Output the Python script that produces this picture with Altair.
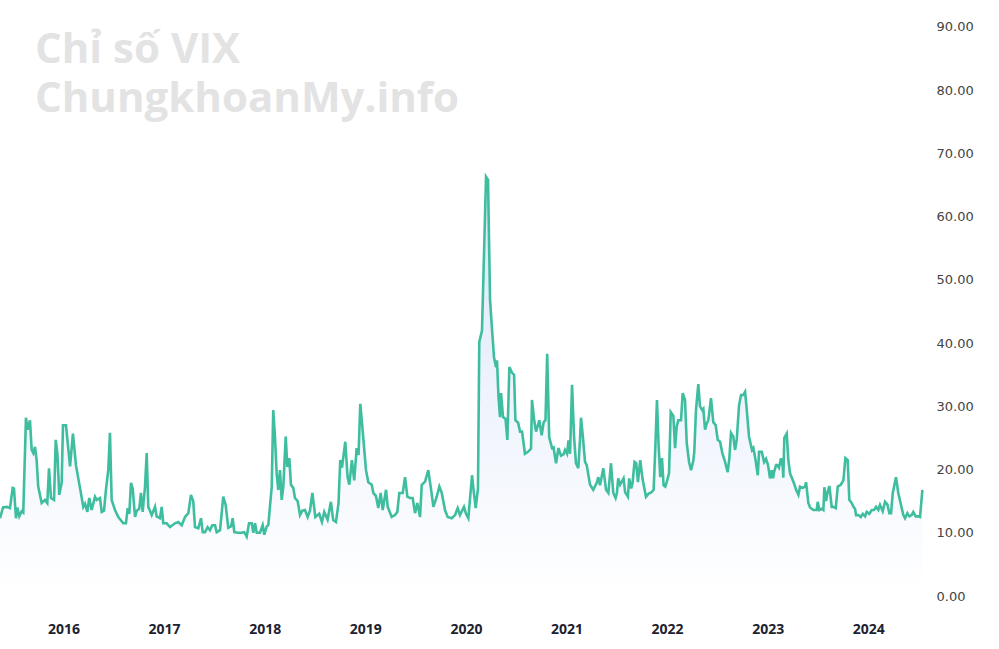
import altair as alt
import pandas as pd

# Weekly VIX closes; time expressed as decimal year
t_2015 = [2015.369, 2015.399, 2015.438, 2015.468, 2015.495, 2015.508, 2015.528, 2015.541, 2015.561, 2015.584,
          2015.600, 2015.627, 2015.644, 2015.667, 2015.684, 2015.700, 2015.717, 2015.733, 2015.749, 2015.783,
          2015.816, 2015.839, 2015.856, 2015.876, 2015.906, 2015.923, 2015.939, 2015.958, 2015.982, 2015.995]
v_2015 = [12.3, 14.0, 14.1, 13.9, 17.1, 17.0, 12.3, 14.0, 12.6, 13.4,
          13.2, 28.2, 26.3, 27.8, 23.1, 22.6, 23.6, 21.5, 17.3, 14.7,
          15.2, 14.7, 20.2, 15.5, 15.2, 24.7, 22.6, 16.0, 17.9, 27.0]

t_2016 = [2016.025, 2016.065, 2016.094, 2016.124, 2016.164, 2016.197, 2016.214, 2016.237, 2016.256, 2016.280,
          2016.313, 2016.330, 2016.363, 2016.380, 2016.403, 2016.422, 2016.445, 2016.462, 2016.479, 2016.512,
          2016.545, 2016.594, 2016.621, 2016.638, 2016.654, 2016.671, 2016.688, 2016.711, 2016.728, 2016.753,
          2016.770, 2016.787, 2016.810, 2016.827, 2016.843, 2016.877, 2016.910, 2016.926, 2016.959, 2016.976,
          2016.992]
v_2016 = [27.0, 20.5, 25.7, 20.7, 17.1, 14.1, 14.6, 13.3, 15.5, 13.6,
          15.7, 15.2, 15.5, 13.3, 13.5, 16.8, 19.9, 25.8, 15.2, 13.6,
          12.5, 11.5, 11.5, 13.9, 13.0, 17.9, 17.0, 12.5, 13.5, 13.8,
          16.3, 13.3, 17.2, 22.6, 14.1, 12.8, 14.1, 12.6, 12.3, 14.1,
          11.5]

t_2017 = [2017.026, 2017.059, 2017.108, 2017.141, 2017.175, 2017.208, 2017.241, 2017.267, 2017.290, 2017.307,
          2017.340, 2017.367, 2017.384, 2017.407, 2017.433, 2017.456, 2017.479, 2017.506, 2017.523, 2017.556,
          2017.588, 2017.612, 2017.638, 2017.665, 2017.682, 2017.698, 2017.732, 2017.771, 2017.797, 2017.821,
          2017.844, 2017.871, 2017.887, 2017.904, 2017.921, 2017.953, 2017.980, 2017.996]
v_2017 = [11.5, 10.9, 11.5, 11.7, 11.2, 12.5, 13.1, 16.0, 15.0, 10.9,
          10.7, 12.3, 10.1, 10.1, 10.9, 10.4, 11.2, 11.2, 10.1, 10.4,
          15.7, 14.4, 10.8, 11.0, 12.3, 10.1, 10.0, 10.0, 10.1, 9.4,
          11.5, 11.5, 10.0, 11.5, 10.0, 10.0, 11.2, 9.7]

t_2018 = [2018.020, 2018.036, 2018.070, 2018.085, 2018.102, 2018.119, 2018.135, 2018.152, 2018.169, 2018.185,
          2018.209, 2018.225, 2018.245, 2018.261, 2018.284, 2018.301, 2018.328, 2018.351, 2018.374, 2018.400,
          2018.427, 2018.450, 2018.474, 2018.503, 2018.542, 2018.569, 2018.592, 2018.625, 2018.658, 2018.681,
          2018.708, 2018.734, 2018.751, 2018.768, 2018.801, 2018.824, 2018.841, 2018.867, 2018.890, 2018.914,
          2018.933, 2018.950, 2018.973]
v_2018 = [11.0, 11.2, 17.3, 29.4, 25.2, 19.4, 16.8, 19.9, 15.2, 17.3,
          25.2, 20.4, 21.8, 17.6, 17.1, 15.5, 15.0, 12.8, 13.5, 13.6,
          12.5, 13.5, 16.3, 12.5, 13.0, 11.7, 13.3, 12.1, 14.9, 12.0,
          11.7, 14.7, 21.5, 20.3, 24.4, 18.8, 17.6, 21.5, 18.3, 23.4,
          22.3, 30.4, 26.3]

t_2019 = [2019.007, 2019.030, 2019.064, 2019.080, 2019.106, 2019.129, 2019.153, 2019.173, 2019.206, 2019.223,
          2019.262, 2019.295, 2019.318, 2019.338, 2019.372, 2019.395, 2019.418, 2019.444, 2019.471, 2019.494,
          2019.517, 2019.544, 2019.561, 2019.594, 2019.626, 2019.650, 2019.677, 2019.710, 2019.736, 2019.760,
          2019.792, 2019.819, 2019.859, 2019.892, 2019.918, 2019.941, 2019.981]
v_2019 = [19.9, 18.0, 17.6, 16.3, 15.8, 13.9, 16.3, 13.6, 16.8, 14.1,
          12.5, 12.8, 13.3, 16.3, 16.3, 18.8, 15.7, 15.5, 15.5, 13.1,
          14.7, 12.5, 17.6, 18.1, 19.9, 17.3, 14.1, 15.7, 17.3, 16.3,
          13.6, 12.5, 12.3, 12.8, 13.9, 12.8, 14.1]

t_2020 = [2020.001, 2020.024, 2020.061, 2020.074, 2020.097, 2020.120, 2020.133, 2020.160, 2020.200, 2020.220,
          2020.240, 2020.254, 2020.279, 2020.299, 2020.309, 2020.324, 2020.339, 2020.349, 2020.369, 2020.394,
          2020.412, 2020.432, 2020.459, 2020.479, 2020.492, 2020.519, 2020.538, 2020.558, 2020.587, 2020.617,
          2020.647, 2020.657, 2020.677, 2020.697, 2020.730, 2020.753, 2020.773, 2020.791, 2020.808, 2020.828,
          2020.856, 2020.871, 2020.896, 2020.920, 2020.945, 2020.970, 2020.985]
v_2020 = [13.0, 12.3, 19.1, 17.1, 13.9, 17.0, 40.2, 42.0, 66.3, 65.8,
          46.8, 43.5, 37.8, 36.2, 37.3, 31.5, 28.3, 32.1, 28.3, 28.0,
          24.7, 36.2, 35.3, 35.0, 27.8, 27.4, 26.0, 26.0, 22.5, 22.8,
          23.3, 31.0, 28.0, 26.0, 27.8, 25.4, 27.5, 27.8, 38.3, 25.1,
          23.4, 23.5, 21.0, 23.4, 22.2, 22.4, 23.1]

t_2021 = [2021.005, 2021.020, 2021.035, 2021.055, 2021.075, 2021.094, 2021.117, 2021.134, 2021.144, 2021.161,
          2021.184, 2021.201, 2021.234, 2021.266, 2021.300, 2021.316, 2021.333, 2021.366, 2021.393, 2021.416,
          2021.442, 2021.465, 2021.488, 2021.501, 2021.514, 2021.533, 2021.567, 2021.583, 2021.610, 2021.623,
          2021.643, 2021.656, 2021.676, 2021.693, 2021.710, 2021.733, 2021.756, 2021.790, 2021.816, 2021.843,
          2021.866, 2021.883, 2021.899, 2021.916, 2021.932, 2021.949, 2021.965, 2021.982, 2021.996]
v_2021 = [22.5, 24.6, 22.5, 33.4, 25.2, 21.0, 20.2, 24.7, 28.2, 25.5,
          21.2, 20.7, 17.6, 16.8, 17.9, 18.8, 17.5, 20.2, 16.8, 16.3,
          21.0, 16.3, 15.5, 16.3, 18.6, 17.6, 18.6, 16.4, 15.7, 18.6,
          17.0, 17.8, 21.2, 21.0, 18.0, 21.5, 18.5, 15.7, 16.2, 16.4,
          16.8, 23.6, 31.0, 23.6, 18.8, 21.8, 17.5, 17.3, 18.0]

t_2022 = [2022.019, 2022.036, 2022.062, 2022.079, 2022.095, 2022.111, 2022.138, 2022.155, 2022.178, 2022.195,
          2022.218, 2022.238, 2022.260, 2022.270, 2022.287, 2022.310, 2022.327, 2022.350, 2022.360, 2022.377,
          2022.394, 2022.410, 2022.436, 2022.459, 2022.483, 2022.503, 2022.526, 2022.549, 2022.576, 2022.602,
          2022.618, 2022.635, 2022.658, 2022.675, 2022.692, 2022.715, 2022.735, 2022.758, 2022.775, 2022.792,
          2022.814, 2022.844, 2022.857, 2022.874, 2022.901, 2022.914, 2022.941, 2022.964, 2022.983]
v_2022 = [19.4, 29.1, 28.5, 23.4, 26.8, 27.8, 27.8, 32.1, 31.0, 24.2,
          21.2, 19.9, 21.4, 22.8, 29.4, 33.5, 30.0, 29.4, 29.6, 26.3,
          27.3, 27.8, 31.3, 27.5, 27.0, 24.7, 24.4, 22.6, 21.2, 19.6,
          21.7, 25.8, 25.2, 23.1, 24.7, 30.2, 31.8, 31.8, 32.3, 29.4,
          25.2, 23.1, 23.4, 22.0, 19.1, 22.8, 22.8, 21.2, 21.7]

t_2023 = [2023.003, 2023.023, 2023.040, 2023.053, 2023.063, 2023.083, 2023.095, 2023.112, 2023.132, 2023.149,
          2023.155, 2023.165, 2023.189, 2023.205, 2023.222, 2023.239, 2023.262, 2023.282, 2023.305, 2023.321,
          2023.348, 2023.371, 2023.381, 2023.404, 2023.421, 2023.454, 2023.487, 2023.497, 2023.513, 2023.537,
          2023.553, 2023.563, 2023.580, 2023.593, 2023.613, 2023.636, 2023.652, 2023.676, 2023.696, 2023.726,
          2023.752, 2023.772, 2023.795, 2023.811, 2023.835, 2023.852, 2023.868, 2023.878, 2023.901, 2023.925,
          2023.945, 2023.968, 2023.984]
v_2023 = [20.7, 18.6, 19.9, 18.6, 19.6, 20.7, 20.7, 20.3, 21.8, 20.5,
          18.7, 25.0, 25.7, 21.5, 19.4, 18.7, 17.8, 16.8, 16.0, 17.3,
          17.1, 17.3, 18.0, 14.7, 14.0, 13.6, 13.6, 14.9, 13.6, 13.8,
          13.6, 17.2, 15.0, 16.3, 17.4, 14.1, 14.1, 13.9, 17.3, 17.6,
          18.3, 21.8, 21.5, 15.2, 14.7, 14.1, 13.8, 12.8, 12.8, 12.5,
          13.0, 12.6, 13.3]

t_2024 = [2024.010, 2024.034, 2024.057, 2024.077, 2024.099, 2024.116, 2024.143, 2024.166, 2024.189, 2024.209,
          2024.226, 2024.243, 2024.275, 2024.298, 2024.322, 2024.348, 2024.365, 2024.388, 2024.408, 2024.431,
          2024.447, 2024.471, 2024.497, 2024.514, 2024.537]
v_2024 = [13.0, 13.6, 13.6, 14.1, 13.6, 14.4, 13.4, 14.9, 14.5, 13.1,
          13.1, 16.3, 18.8, 16.3, 14.6, 12.8, 12.3, 13.1, 12.6, 12.8,
          13.3, 12.6, 12.6, 12.5, 16.8]

year_ticks = [2016, 2017, 2018, 2019, 2020, 2021, 2022, 2023, 2024]
value_ticks = [0, 10, 20, 30, 40, 50, 60, 70, 80, 90]
title_lines = ["Chỉ số VIX", "ChungkhoanMy.info"]

t_all = t_2015 + t_2016 + t_2017 + t_2018 + t_2019 + t_2020 + t_2021 + t_2022 + t_2023 + t_2024
v_all = v_2015 + v_2016 + v_2017 + v_2018 + v_2019 + v_2020 + v_2021 + v_2022 + v_2023 + v_2024
df = pd.DataFrame({"t": t_all, "vix": v_all}).sort_values("t")

W, H = 930, 596
x_dom = [2015.369, 2024.613]
y_dom = [0, 94.27]

x_enc = alt.X("t:Q", scale=alt.Scale(domain=x_dom, nice=False, zero=False),
              axis=alt.Axis(values=year_ticks, format="d", title=None, grid=False, domain=False,
                            ticks=False, labelPadding=26, labelFontSize=14, labelFontWeight="bold",
                            labelColor="#1e2230", labelFont="Open Sans", labelFlush=False))
y_enc = alt.Y("vix:Q", scale=alt.Scale(domain=y_dom, nice=False),
              axis=alt.Axis(orient="right", values=value_ticks, format=".2f", title=None, grid=False,
                            domain=False, ticks=False, labelPadding=6, labelFontSize=13,
                            labelColor="#444444", labelFont="DejaVu Sans"))

base = alt.Chart(df)
area = base.mark_area(
    color=alt.Gradient(
        gradient="linear",
        stops=[alt.GradientStop(color="#ffffff", offset=0),
               alt.GradientStop(color="#dce6f9", offset=1)],
        x1=1, x2=1, y1=1, y2=0),
).encode(x=x_enc, y=y_enc)
line = base.mark_line(color="#3fbe9f", strokeWidth=2.6).encode(x=x_enc, y=y_enc)

wm_style = dict(align="left", baseline="alphabetic", font="Open Sans", fontWeight="bold",
                fontSize=42, color="#e3e3e3")
wm1 = alt.Chart(pd.DataFrame({"txt": [title_lines[0]]})).mark_text(**wm_style).encode(
    text="txt:N", x=alt.value(35), y=alt.value(63))
wm2 = alt.Chart(pd.DataFrame({"txt": [title_lines[1]]})).mark_text(**wm_style).encode(
    text="txt:N", x=alt.value(35), y=alt.value(112))

chart = alt.layer(wm1, wm2, area, line).properties(
    width=W, height=H,
    autosize=alt.AutoSizeParams(type="none"),
    padding={"left": 0, "top": 0, "right": 999 - W, "bottom": 649 - H},
    background="#ffffff",
).configure_view(stroke=None)

chart.save("out.html", embed_options={"renderer": "svg", "actions": False})
